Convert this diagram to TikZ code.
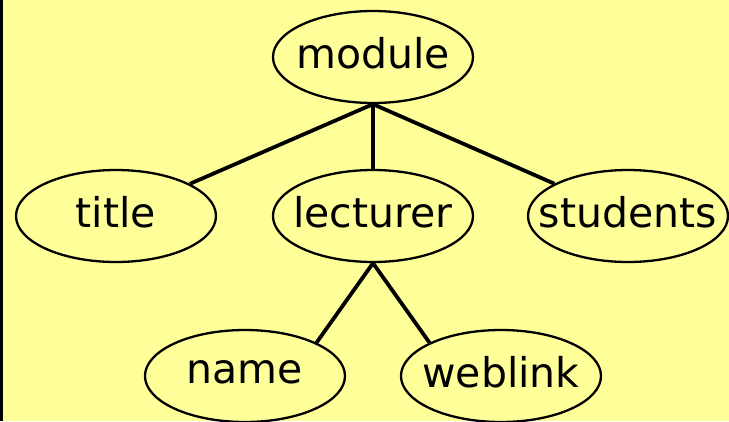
\documentclass[tikz,border=0pt]{standalone}
\usepackage{fontspec}
\setmainfont{DejaVu Sans}
\usetikzlibrary{shapes.geometric}
\definecolor{paper}{RGB}{255,255,153}
\tikzstyle{entity}=[ellipse,draw=black,line width=2.3pt,fill=paper,minimum width=200pt,minimum height=92pt,inner xsep=-50pt,inner ysep=0pt,text depth=8pt,font=\fontsize{41}{41}\selectfont]
\tikzstyle{link}=[line width=3.8pt,black]

\begin{document}
\begin{tikzpicture}[x=1pt,y=-1pt]

	% page and left edge
	\fill[paper] (0,0) rectangle (729,421);
	\fill[black] (0,0) rectangle (2.5,421);
	\useasboundingbox (0,0) rectangle (729,421);

	\node[entity] (module) at (373,57) {module};
	\node[entity] (title) at (116,216) {title};
	\node[entity] (lecturer) at (373,216) {lecturer};
	\node[entity] (students) at (628,216) {students};
	\node[entity] (name) at (245,376) {name};
	\node[entity] (weblink) at (501,376) {weblink};

	\draw[link] (module.south) -- (title);
	\draw[link] (module.south) -- (lecturer.north);
	\draw[link] (module.south) -- (students);
	\draw[link] (lecturer.south) -- (name.25);
	\draw[link] (lecturer.south) -- (weblink.155);

\end{tikzpicture}
\end{document}
